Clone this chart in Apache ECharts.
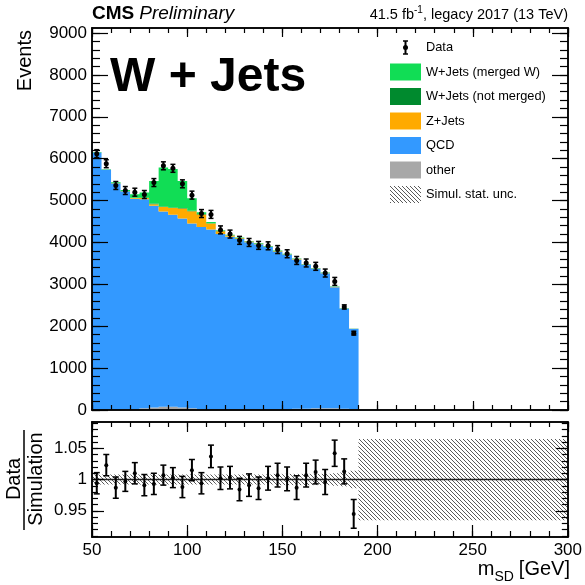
<!DOCTYPE html>
<html>
<head>
<meta charset="utf-8">
<script src="https://cdn.jsdelivr.net/npm/echarts@6/dist/echarts.min.js"></script>
<style>
html, body { margin: 0; padding: 0; background: #fff; }
#chart { width: 585px; height: 585px; }
</style>
</head>
<body>
<div id="chart"></div>
<script>
// soft-drop mass bins (low edges, GeV), 5 GeV wide
const binLow = [50, 55, 60, 65, 70, 75, 80, 85, 90, 95, 100, 105, 110, 115,
                120, 125, 130, 135, 140, 145, 150, 155, 160, 165, 170, 175, 180, 185]
const binWidth = 5

// simulation, stacked bottom -> top
const other      = [0, 0, 0, 10, 20, 40, 60, 80, 80, 60, 40, 20, 10, 10, 10, 10, 10, 10, 10, 10, 20, 30, 30, 40, 40, 40, 30, 20]
const qcd        = [6145, 5735, 5410, 5205, 5025, 4990, 4815, 4660, 4580, 4510, 4415, 4350, 4300, 4190,
                    4125, 4070, 3995, 3950, 3880, 3770, 3685, 3565, 3435, 3330, 3225, 2890, 2385, 1912]
const zjets      = [0, 0, 5, 10, 15, 30, 40, 105, 160, 240, 290, 300, 140, 70, 30, 20, 15, 12, 10, 10, 10, 10, 10, 8, 8, 6, 5, 4]
const wNotMerged = [5, 5, 5, 5, 10, 10, 15, 15, 15, 15, 10, 10, 10, 8, 8, 6, 6, 6, 5, 5, 5, 5, 5, 4, 4, 4, 3, 2]
const wMerged    = [10, 10, 15, 25, 80, 120, 540, 930, 920, 640, 300, 40, 30, 15, 12, 10, 10, 10, 10, 10, 8, 8, 8, 8, 6, 6, 5, 4]

// data
const dataVals = [6120, 5880, 5360, 5240, 5200, 5145, 5430, 5830, 5770, 5400, 5130, 4690, 4670, 4300,
                  4200, 4050, 4000, 3930, 3920, 3830, 3730, 3570, 3510, 3430, 3270, 3070, 2460, 1835]
const dataErr  = [95, 95, 95, 95, 95, 95, 95, 95, 95, 95, 95, 95, 95, 95,
                  95, 95, 95, 95, 95, 95, 95, 95, 95, 95, 95, 95, 50, 45]

// ratio panel
const ratioVals = [0.994, 1.023, 0.987, 0.997, 1.010, 0.991, 0.993, 1.007, 1.003, 0.988, 1.015, 0.994, 1.037, 1.002,
                   1.003, 0.984, 0.991, 0.986, 1.002, 1.007, 1.001, 0.987, 1.007, 1.012, 0.996, 1.042, 1.013, 0.945]
const ratioErr  = [0.017, 0.017, 0.017, 0.016, 0.017, 0.017, 0.017, 0.016, 0.016, 0.017, 0.017, 0.017, 0.018, 0.018,
                   0.018, 0.018, 0.018, 0.018, 0.019, 0.019, 0.019, 0.019, 0.019, 0.019, 0.020, 0.021, 0.020, 0.023]
const mcUnc     = [0.008, 0.008, 0.008, 0.008, 0.008, 0.008, 0.008, 0.008, 0.008, 0.008, 0.008, 0.008, 0.008, 0.008,
                   0.008, 0.008, 0.008, 0.008, 0.008, 0.009, 0.009, 0.009, 0.009, 0.009, 0.009, 0.010, 0.011, 0.014]
const emptyRange = [190, 300]
const emptyUnc = 0.065

const FONT = '"Liberation Sans", Arial, Helvetica, sans-serif'
const colors = {
    other: '#a8a8a8',
    qcd: '#3399ff',
    zjets: '#ffaa00',
    wNotMerged: '#008a2e',
    wMerged: '#11dd55'
}

// diagonal hatch used for the simulation stat. uncertainty
function makeHatch() {
    const c = document.createElement('canvas')
    c.width = 4
    c.height = 4
    const g = c.getContext('2d')
    g.strokeStyle = '#5a5a5a'
    g.lineWidth = 1
    g.beginPath()
    g.moveTo(-1, -1); g.lineTo(5, 5)
    g.moveTo(-1, 3); g.lineTo(1, 5)
    g.moveTo(3, -1); g.lineTo(5, 1)
    g.stroke()
    return c
}
const hatch = { image: makeHatch(), repeat: 'repeat' }

const measureCtx = document.createElement('canvas').getContext('2d')
function tw(text, font) {
    measureCtx.font = font
    return measureCtx.measureText(text).width
}

function range(a, b, step) {
    const out = []
    for (let v = a; v <= b + 1e-9; v += step) out.push(Math.round(v * 1000) / 1000)
    return out
}

// rect renderer: value = [x0, x1, y0, y1]
function rectItem(fill) {
    return (params, api) => {
        const p0 = api.coord([api.value(0), api.value(3)])
        const p1 = api.coord([api.value(1), api.value(2)])
        const h = p1[1] - p0[1]
        if (h <= 0) return { type: 'group', children: [] }
        return {
            type: 'rect',
            shape: { x: p0[0], y: p0[1], width: p1[0] - p0[0], height: h },
            style: { fill: fill }
        }
    }
}

// one step-shaped polygon per stacked component (no seams between bins)
function stepPolygon(lower, upper, color) {
    return (params, api) => {
        if (params.dataIndex !== 0) return { type: 'group', children: [] }
        const pts = []
        binLow.forEach((lo, i) => {
            pts.push(api.coord([lo, upper[i]]))
            pts.push(api.coord([lo + binWidth, upper[i]]))
        })
        for (let i = binLow.length - 1; i >= 0; i--) {
            pts.push(api.coord([binLow[i] + binWidth, lower[i]]))
            pts.push(api.coord([binLow[i], lower[i]]))
        }
        return { type: 'polygon', shape: { points: pts }, style: { fill: color } }
    }
}

// point with error bar: value = [x, y, err]
function pointItem(r, cap) {
    return (params, api) => {
        const x = api.value(0), y = api.value(1), e = api.value(2)
        const c = api.coord([x, y])
        const t = api.coord([x, y + e])
        const b = api.coord([x, y - e])
        return {
            type: 'group',
            children: [
                { type: 'line', shape: { x1: c[0], y1: t[1], x2: c[0], y2: b[1] }, style: { stroke: '#000', lineWidth: 2 } },
                { type: 'line', shape: { x1: c[0] - cap, y1: t[1], x2: c[0] + cap, y2: t[1] }, style: { stroke: '#000', lineWidth: 1.5 } },
                { type: 'line', shape: { x1: c[0] - cap, y1: b[1], x2: c[0] + cap, y2: b[1] }, style: { stroke: '#000', lineWidth: 1.5 } },
                { type: 'circle', shape: { cx: c[0], cy: c[1], r: r }, style: { fill: '#000' } }
            ]
        }
    }
}

// stacked histogram series
const comps = [
    { name: 'other', vals: other, color: colors.other },
    { name: 'QCD', vals: qcd, color: colors.qcd },
    { name: 'Z+Jets', vals: zjets, color: colors.zjets },
    { name: 'W+Jets (not merged)', vals: wNotMerged, color: colors.wNotMerged },
    { name: 'W+Jets (merged W)', vals: wMerged, color: colors.wMerged }
]
let base = binLow.map(() => 0)
const histSeries = comps.map(c => {
    const lower = base
    const upper = binLow.map((lo, i) => lower[i] + c.vals[i])
    base = upper
    return {
        type: 'custom', name: c.name, xAxisIndex: 0, yAxisIndex: 0,
        renderItem: stepPolygon(lower, upper, c.color),
        data: binLow.map((lo, i) => [lo + binWidth / 2, upper[i]]), z: 2, silent: true
    }
})

const dataPoints = binLow.map((lo, i) => [lo + binWidth / 2, dataVals[i], dataErr[i]])
const ratioPoints = binLow.map((lo, i) => [lo + binWidth / 2, ratioVals[i], ratioErr[i]])
const uncBand = binLow.map((lo, i) => [lo, lo + binWidth, 1 - mcUnc[i], 1 + mcUnc[i]])
uncBand.push([emptyRange[0], emptyRange[1], 1 - emptyUnc, 1 + emptyUnc])

// axes: every frame side gets a major and a minor tick axis (ROOT style)
const xMajor = range(50, 300, 50)
const xMinor = range(50, 300, 10)
function xAx(grid, pos, ticks, len, labels) {
    return {
        type: 'value', gridIndex: grid, position: pos, min: 50, max: 300, z: 10,
        axisLine: { show: true, onZero: false, lineStyle: { color: '#000', width: 1.5 } },
        axisTick: { show: true, inside: true, length: len, customValues: ticks, lineStyle: { color: '#000', width: 1.2 } },
        axisLabel: labels ? {
            show: true, customValues: labels, margin: 5, color: '#000', fontSize: 17, fontFamily: FONT,
            formatter: v => String(v)
        } : { show: false },
        splitLine: { show: false }
    }
}
function yAx(grid, pos, min, max, ticks, len, labels) {
    return {
        type: 'value', gridIndex: grid, position: pos, min: min, max: max, z: 10,
        axisLine: { show: true, onZero: false, lineStyle: { color: '#000', width: 1.5 } },
        axisTick: { show: true, inside: true, length: len, customValues: ticks, lineStyle: { color: '#000', width: 1.2 } },
        axisLabel: labels ? {
            show: true, customValues: labels, margin: 5, color: '#000', fontSize: 17, fontFamily: FONT,
            formatter: v => String(v)
        } : { show: false },
        splitLine: { show: false }
    }
}

const yMainMajor = range(0, 9000, 1000)
const yMainMinor = range(0, 9000, 200)
const yRatioMajor = [0.95, 1, 1.05]
const yRatioMinor = range(0.91, 1.09, 0.01)

const xAxis = [
    xAx(0, 'bottom', xMajor, 9), xAx(0, 'bottom', xMinor, 5),
    xAx(0, 'top', xMajor, 9), xAx(0, 'top', xMinor, 5),
    xAx(1, 'bottom', xMajor, 12, xMajor), xAx(1, 'bottom', xMinor, 6),
    xAx(1, 'top', xMajor, 10), xAx(1, 'top', xMinor, 5)
]
const yAxis = [
    yAx(0, 'left', 0, 9120, yMainMajor, 16, yMainMajor), yAx(0, 'left', 0, 9120, yMainMinor, 8),
    yAx(0, 'right', 0, 9120, yMainMajor, 16), yAx(0, 'right', 0, 9120, yMainMinor, 8),
    yAx(1, 'left', 0.908, 1.092, yRatioMajor, 12, yRatioMajor), yAx(1, 'left', 0.908, 1.092, yRatioMinor, 6),
    yAx(1, 'right', 0.908, 1.092, yRatioMajor, 12), yAx(1, 'right', 0.908, 1.092, yRatioMinor, 6)
]

// header, titles and legend
const headFont = `bold 19px ${FONT}`
const lumiFont = `14.5px ${FONT}`
const lumiTail = ', legacy 2017 (13 TeV)'
const tailW = tw(lumiTail, lumiFont)
const supW = tw('-1', `10px ${FONT}`)
const graphics = [
    { type: 'text', x: 92, y: 14, style: { text: 'CMS', font: headFont, fill: '#000', textVerticalAlign: 'middle' } },
    { type: 'text', x: 92 + tw('CMS', headFont) + 5, y: 14, style: { text: 'Preliminary', font: `italic 19px ${FONT}`, fill: '#000', textVerticalAlign: 'middle' } },
    { type: 'text', x: 568, y: 15, style: { text: lumiTail, font: lumiFont, fill: '#000', textAlign: 'right', textVerticalAlign: 'middle' } },
    { type: 'text', x: 568 - tailW, y: 10, style: { text: '-1', font: `10px ${FONT}`, fill: '#000', textAlign: 'right', textVerticalAlign: 'middle' } },
    { type: 'text', x: 568 - tailW - supW, y: 15, style: { text: '41.5 fb', font: lumiFont, fill: '#000', textAlign: 'right', textVerticalAlign: 'middle' } },
    { type: 'text', x: 110, y: 78, style: { text: 'W + Jets', font: `bold 48px ${FONT}`, fill: '#000', textVerticalAlign: 'middle' } },
    // y titles
    { type: 'text', x: 25, y: 30, rotation: Math.PI / 2, style: { text: 'Events', font: `20px ${FONT}`, fill: '#000', textAlign: 'right', textVerticalAlign: 'middle' } },
    { type: 'text', x: 14, y: 479, rotation: Math.PI / 2, style: { text: 'Data', font: `20px ${FONT}`, fill: '#000', textAlign: 'center', textVerticalAlign: 'middle' } },
    { type: 'line', shape: { x1: 24, y1: 430, x2: 24, y2: 530 }, style: { stroke: '#000', lineWidth: 1.5 } },
    { type: 'text', x: 36, y: 479, rotation: Math.PI / 2, style: { text: 'Simulation', font: `20px ${FONT}`, fill: '#000', textAlign: 'center', textVerticalAlign: 'middle' } },
    // x title m_SD [GeV]
    { type: 'text', x: 570, y: 569, style: { text: '[GeV]', font: `20px ${FONT}`, fill: '#000', textAlign: 'right', textVerticalAlign: 'middle' } },
    { type: 'text', x: 570 - tw('[GeV]', `20px ${FONT}`) - 5, y: 577, style: { text: 'SD', font: `14px ${FONT}`, fill: '#000', textAlign: 'right', textVerticalAlign: 'middle' } },
    { type: 'text', x: 570 - tw('[GeV]', `20px ${FONT}`) - 5 - tw('SD', `14px ${FONT}`), y: 569, style: { text: 'm', font: `20px ${FONT}`, fill: '#000', textAlign: 'right', textVerticalAlign: 'middle' } }
]

const legendRows = [
    { label: 'Data', y: 47.5, kind: 'data' },
    { label: 'W+Jets (merged W)', y: 72, fill: colors.wMerged },
    { label: 'W+Jets (not merged)', y: 96.5, fill: colors.wNotMerged },
    { label: 'Z+Jets', y: 121, fill: colors.zjets },
    { label: 'QCD', y: 145.5, fill: colors.qcd },
    { label: 'other', y: 170, fill: colors.other },
    { label: 'Simul. stat. unc.', y: 194.5, fill: hatch }
]
legendRows.forEach(r => {
    if (r.kind === 'data') {
        graphics.push(
            { type: 'line', shape: { x1: 405.5, y1: 41, x2: 405.5, y2: 54 }, style: { stroke: '#000', lineWidth: 2 } },
            { type: 'line', shape: { x1: 403, y1: 41, x2: 408, y2: 41 }, style: { stroke: '#000', lineWidth: 1.5 } },
            { type: 'line', shape: { x1: 403, y1: 54, x2: 408, y2: 54 }, style: { stroke: '#000', lineWidth: 1.5 } },
            { type: 'circle', shape: { cx: 405.5, cy: r.y, r: 2.5 }, style: { fill: '#000' } }
        )
    } else {
        graphics.push({ type: 'rect', shape: { x: 390, y: r.y - 8.5, width: 31, height: 17 }, style: { fill: r.fill } })
    }
    graphics.push({ type: 'text', x: 426, y: r.y, style: { text: r.label, font: `12.8px ${FONT}`, fill: '#000', textVerticalAlign: 'middle' } })
})

const chart = echarts.init(document.getElementById('chart'), null, { renderer: 'canvas' })
chart.setOption({
    animation: false,
    backgroundColor: '#fff',
    grid: [
        { left: 92, top: 28, width: 476, height: 382 },
        { left: 92, top: 422, width: 476, height: 115 }
    ],
    xAxis: xAxis,
    yAxis: yAxis,
    graphic: graphics,
    series: histSeries.concat([
        {
            type: 'custom', name: 'Data', xAxisIndex: 0, yAxisIndex: 0, z: 5, silent: true,
            renderItem: pointItem(2.5, 2.5), data: dataPoints
        },
        {
            type: 'custom', name: 'Simul. stat. unc.', xAxisIndex: 4, yAxisIndex: 4, z: 2, silent: true,
            renderItem: rectItem(hatch), data: uncBand
        },
        {
            type: 'line', xAxisIndex: 4, yAxisIndex: 4, z: 3, silent: true, symbol: 'none',
            lineStyle: { color: '#222', width: 1.5 }, data: [[50, 1], [300, 1]]
        },
        {
            type: 'custom', name: 'Ratio', xAxisIndex: 4, yAxisIndex: 4, z: 5, silent: true,
            renderItem: pointItem(2, 3), data: ratioPoints
        }
    ])
})
</script>
</body>
</html>
